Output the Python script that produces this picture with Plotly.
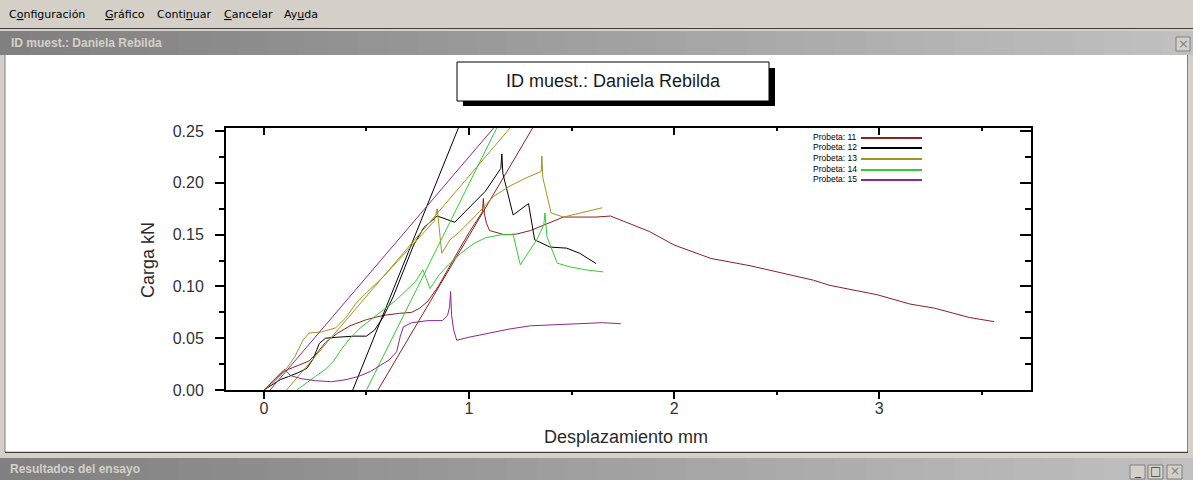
import plotly.graph_objects as go

# ---------------- data ----------------
series_names = ["Probeta: 11", "Probeta: 12", "Probeta: 13", "Probeta: 14", "Probeta: 15"]
series_colors = ["#8a2222", "#000000", "#a39322", "#33cc33", "#8a2a8a"]

p11_x = [0, 0.03, 0.06, 0.09, 0.12, 0.17, 0.22, 0.26, 0.30, 0.36, 0.42, 0.50, 0.58, 0.66, 0.72, 0.76,
         0.80, 0.85, 0.90, 0.95, 1.00, 1.04, 1.065, 1.07, 1.075, 1.085, 1.10, 1.17, 1.23, 1.30, 1.40,
         1.46, 1.55, 1.62, 1.69, 1.78, 1.88, 2.00, 2.18, 2.37, 2.57, 2.68, 2.76, 2.99, 3.15, 3.27, 3.44, 3.56]
p11_y = [0, 0.006, 0.012, 0.017, 0.020, 0.024, 0.028, 0.036, 0.046, 0.055, 0.062, 0.068, 0.072, 0.074,
         0.075, 0.079, 0.086, 0.100, 0.118, 0.135, 0.152, 0.165, 0.172, 0.185, 0.170, 0.161, 0.154,
         0.150, 0.1505, 0.154, 0.162, 0.167, 0.167, 0.167, 0.168, 0.161, 0.153, 0.140, 0.127, 0.120,
         0.111, 0.106, 0.101, 0.092, 0.083, 0.079, 0.070, 0.066]

p12_x = [0, 0.04, 0.08, 0.12, 0.17, 0.21, 0.24, 0.27, 0.30, 0.36, 0.44, 0.50, 0.54, 0.58, 0.63, 0.68,
         0.73, 0.78, 0.82, 0.845, 0.93, 1.00, 1.08, 1.155, 1.16, 1.165, 1.215, 1.29, 1.32, 1.395,
         1.476, 1.54, 1.62]
p12_y = [0, 0.005, 0.010, 0.013, 0.017, 0.021, 0.030, 0.045, 0.050, 0.051, 0.052, 0.052, 0.058, 0.070,
         0.090, 0.115, 0.140, 0.157, 0.164, 0.168, 0.162, 0.176, 0.192, 0.214, 0.228, 0.209, 0.169,
         0.180, 0.145, 0.138, 0.137, 0.132, 0.122]

p13_x = [0, 0.05, 0.10, 0.15, 0.19, 0.22, 0.28, 0.35, 0.40, 0.45, 0.50, 0.58, 0.65, 0.72, 0.79, 0.83,
         0.845, 0.867, 0.907, 0.95, 1.05, 1.12, 1.20, 1.28, 1.352, 1.355, 1.36, 1.40, 1.46, 1.54, 1.65]
p13_y = [0, 0.008, 0.018, 0.032, 0.048, 0.055, 0.056, 0.060, 0.070, 0.084, 0.094, 0.109, 0.124, 0.139,
         0.154, 0.163, 0.175, 0.132, 0.145, 0.152, 0.172, 0.187, 0.197, 0.205, 0.211, 0.226, 0.205,
         0.171, 0.167, 0.171, 0.176]

p14_x = [0.16, 0.20, 0.25, 0.30, 0.34, 0.38, 0.42, 0.47, 0.52, 0.58, 0.64, 0.70, 0.74, 0.775, 0.81,
         0.85, 0.90, 0.96, 1.02, 1.08, 1.16, 1.215, 1.25, 1.33, 1.365, 1.37, 1.38, 1.43, 1.49, 1.57, 1.655]
p14_y = [0, 0.006, 0.013, 0.020, 0.028, 0.040, 0.050, 0.060, 0.068, 0.077, 0.086, 0.097, 0.105, 0.116,
         0.098, 0.110, 0.121, 0.132, 0.141, 0.147, 0.150, 0.150, 0.121, 0.145, 0.160, 0.171, 0.148,
         0.1225, 0.119, 0.116, 0.114]

p15_x = [0, 0.03, 0.06, 0.09, 0.10, 0.13, 0.18, 0.25, 0.33, 0.40, 0.46, 0.52, 0.57, 0.61, 0.647, 0.665,
         0.68, 0.72, 0.80, 0.87, 0.895, 0.905, 0.91, 0.915, 0.925, 0.94, 1.00, 1.10, 1.20, 1.30, 1.40,
         1.55, 1.65, 1.74]
p15_y = [0, 0.006, 0.012, 0.018, 0.020, 0.014, 0.011, 0.009, 0.008, 0.010, 0.013, 0.018, 0.024, 0.029,
         0.037, 0.052, 0.061, 0.065, 0.067, 0.067, 0.072, 0.080, 0.095, 0.072, 0.058, 0.048, 0.051,
         0.055, 0.059, 0.062, 0.063, 0.064, 0.065, 0.064]

# straight modulus (tangent) lines: [start at load 0, end at top of chart]
t11_x = [0.556, 1.31]
t11_y = [0.0, 0.253]
t12_x = [0.433, 0.948]
t12_y = [0.0, 0.253]
t13_x = [0.11, 1.20]
t13_y = [0.0, 0.253]
t14_x = [0.50, 1.135]
t14_y = [0.0, 0.253]
t15_x = [0.03, 1.12]
t15_y = [0.0, 0.253]

x_ticks = [0, 1, 2, 3]
x_minor = [0.5, 1.5, 2.5, 3.5]
y_ticks = [0.0, 0.05, 0.10, 0.15, 0.20, 0.25]
y_minor = [0.025, 0.075, 0.125, 0.175, 0.225]
x_range = [-0.185, 3.74]
y_range = [0.0, 0.253]

chart_title = "ID muest.: Daniela Rebilda"
x_title = "Desplazamiento mm"
y_title = "Carga kN"

# ---------------- layout geometry ----------------
W, H = 1193, 480
L, R, T, B = 226, 1031, 128, 390
FONT = "Liberation Sans, Arial, sans-serif"
UIFONT = "DejaVu Sans, Tahoma, sans-serif"


def px(x):
    return (x - L) / (R - L)


def py(y):
    return (B - y) / (B - T)


shapes = []
annotations = []


def rect(x0, y0, x1, y1, fill, line_color=None, lw=0):
    shapes.append(dict(type="rect", xref="paper", yref="paper",
                       x0=px(x0), x1=px(x1), y0=py(y1), y1=py(y0),
                       fillcolor=fill, layer="above",
                       line=dict(color=line_color or fill, width=lw)))


def hline(x0, x1, y, color, w=1):
    shapes.append(dict(type="line", xref="paper", yref="paper",
                       x0=px(x0), x1=px(x1), y0=py(y), y1=py(y),
                       line=dict(color=color, width=w), layer="above"))


def vline(x, y0, y1, color, w=1):
    shapes.append(dict(type="line", xref="paper", yref="paper",
                       x0=px(x), x1=px(x), y0=py(y0), y1=py(y1),
                       line=dict(color=color, width=w), layer="above"))


def text(x, y, s, size, color="#000", family=FONT, xanchor="left", angle=0):
    annotations.append(dict(xref="paper", yref="paper", x=px(x), y=py(y), text=s,
                            showarrow=False, xanchor=xanchor, yanchor="middle",
                            textangle=angle, font=dict(family=family, size=size, color=color)))


def gradient_bar(y0, y1, c0=(128, 128, 128), c1=(192, 192, 192), n=40):
    step = W / n
    for i in range(n):
        t = i / (n - 1)
        c = tuple(int(round(a + (b - a) * t)) for a, b in zip(c0, c1))
        col = "rgb(%d,%d,%d)" % c
        rect(i * step, y0, (i + 1) * step + 0.8, y1, col)


# window chrome
rect(0, 0, W, 28, "#d4d0c8")
hline(0, W, 28.5, "#404040")
rect(0, 29, W, 31, "#d4d0c8")
gradient_bar(31, 55)
rect(0, 55, 5, 456, "#d4d0c8")
rect(1188, 55, W, 456, "#d4d0c8")
vline(5, 55, 452, "#808080")
vline(1187.5, 55, 452, "#808080")
hline(5, 1188, 452.5, "#404040", 1.5)
rect(0, 454, W, 458, "#d4d0c8")
gradient_bar(458, 480)

# menu
menu_items = [(7, "C<u>o</u>nfiguración"), (103, "<u>G</u>ráfico"), (155, "Conti<u>n</u>uar"),
              (222, "<u>C</u>ancelar"), (282, "Ay<u>u</u>da")]
for mx, ms in menu_items:
    text(mx, 14, ms, 11, "#000", UIFONT)

text(9, 43, "<b>" + chart_title + "</b>", 12, "#d4d0c8")
text(8, 469, "<b>Resultados del ensayo</b>", 12, "#d4d0c8")

# caption buttons
for bx0, glyph in [(1176, "×")]:
    rect(bx0, 37, bx0 + 14, 51, "#d4d0c8", "#808080", 1)
    text(bx0 + 7, 44, glyph, 13, "#808080", UIFONT, "center")
for bx0, glyph in [(1130, "_"), (1148, "□"), (1167, "×")]:
    rect(bx0, 465, bx0 + 15, 479, "#d4d0c8", "#808080", 1)
    text(bx0 + 7.5, 471, glyph, 12, "#404040" if glyph != "×" else "#808080", UIFONT, "center")

# chart title box with shadow
rect(463, 68, 775, 106, "#000000")
rect(457, 62, 769, 101, "#ffffff", "#000000", 1)
text(613, 81, chart_title, 18, "#1a1a1a", FONT, "center")

# axis titles
text(626, 437, x_title, 18, "#2a2a2a", FONT, "center")
text(148, 260, y_title, 18, "#2a2a2a", FONT, "center", -90)

# legend (text on the left, line sample on the right)
legend_rows = [137, 147, 158, 169, 179]
for name, col, ly in zip(series_names, series_colors, legend_rows):
    text(859, ly, name, 8.5, "#000", FONT, "right")
    hline(861, 922, ly + 1, col, 2)

# ---------------- traces ----------------
fig = go.Figure()
curves = [(p11_x, p11_y, t11_x, t11_y), (p12_x, p12_y, t12_x, t12_y),
          (p13_x, p13_y, t13_x, t13_y), (p14_x, p14_y, t14_x, t14_y),
          (p15_x, p15_y, t15_x, t15_y)]
for (cx, cy, tx, ty), name, col in zip(curves, series_names, series_colors):
    fig.add_trace(go.Scatter(x=tx, y=ty, mode="lines", line=dict(color=col, width=1),
                             showlegend=False, hoverinfo="skip"))
    fig.add_trace(go.Scatter(x=cx, y=cy, mode="lines", name=name,
                             line=dict(color=col, width=1), showlegend=False))

# dummy trace so the mirrored (inside-tick) top/right axes are drawn
fig.add_trace(go.Scatter(x=[None], y=[None], xaxis="x2", yaxis="y2",
                         showlegend=False, hoverinfo="skip"))

tickfont = dict(family=FONT, size=16, color="#333333")
fig.update_layout(
    width=W, height=H, autosize=False,
    margin=dict(l=L, r=W - R, t=T, b=H - B, pad=0),
    paper_bgcolor="#ffffff", plot_bgcolor="#ffffff",
    showlegend=False,
    xaxis=dict(range=x_range, tickvals=x_ticks, ticktext=[str(v) for v in x_ticks],
               ticks="outside", ticklen=7, tickwidth=2, tickcolor="#000",
               showline=True, linewidth=2, linecolor="#000", showgrid=False, zeroline=False,
               minor=dict(tickvals=x_minor, ticks="outside", ticklen=3, tickwidth=2, tickcolor="#000"),
               tickfont=tickfont, ticklabelstandoff=-4),
    yaxis=dict(range=y_range, tickvals=y_ticks, ticktext=["%.2f" % v for v in y_ticks],
               ticks="outside", ticklen=9, tickwidth=1.5, tickcolor="#000",
               showline=True, linewidth=2, linecolor="#000", showgrid=False, zeroline=False,
               minor=dict(tickvals=y_minor, ticks="outside", ticklen=5, tickwidth=1.5, tickcolor="#000"),
               tickfont=tickfont, ticklabelstandoff=8),
    xaxis2=dict(overlaying="x", side="top", anchor="y", range=x_range, tickvals=x_ticks,
                ticks="inside", ticklen=7, tickwidth=2, tickcolor="#000", showticklabels=False,
                showline=True, linewidth=1.5, linecolor="#000", showgrid=False, zeroline=False,
                minor=dict(tickvals=x_minor, ticks="inside", ticklen=3, tickwidth=2, tickcolor="#000")),
    yaxis2=dict(overlaying="y", side="right", anchor="x", range=y_range, tickvals=y_ticks,
                ticks="inside", ticklen=11, tickwidth=1.5, tickcolor="#000", showticklabels=False,
                showline=True, linewidth=1.5, linecolor="#000", showgrid=False, zeroline=False,
                minor=dict(tickvals=y_minor, ticks="inside", ticklen=6, tickwidth=1.5, tickcolor="#000")),
    shapes=shapes,
    annotations=annotations,
)

fig.write_html("out.html", config={"displayModeBar": False},
               post_script="document.body.style.margin='0';document.body.style.overflow='hidden';")
